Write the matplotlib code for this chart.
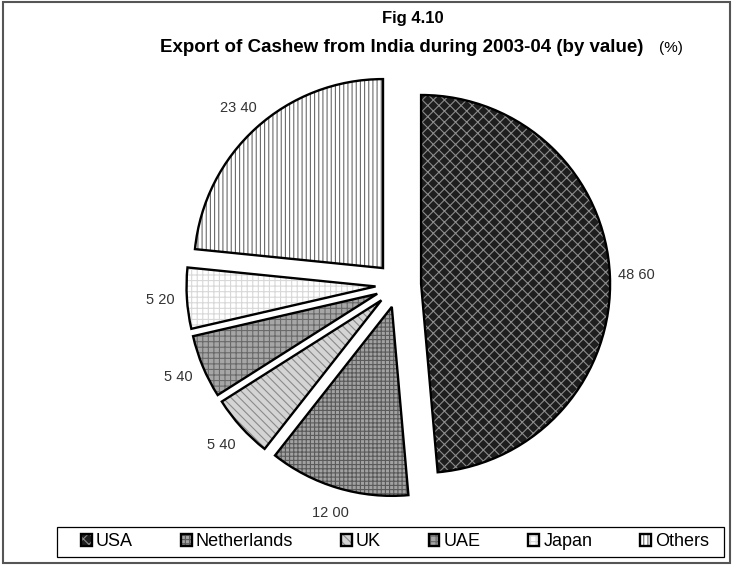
import matplotlib
matplotlib.use("Agg")
import matplotlib.pyplot as plt
from matplotlib.patches import Rectangle
from matplotlib.legend_handler import HandlerTuple

plt.rcParams['font.family'] = ['Liberation Sans', 'DejaVu Sans']
plt.rcParams['hatch.linewidth'] = 0.8

# Export shares of cashew from India, 2003-04 (by value, %)
countries = ['USA', 'Netherlands', 'UK', 'UAE', 'Japan', 'Others']
shares = [48.60, 12.00, 5.40, 5.40, 5.20, 23.40]

# grayscale fills and hatch patterns per slice
face_colors = ['#1e1e1e', '#a2a2a2', '#d4d4d4', '#a6a6a6', '#ffffff', '#ffffff']
hatch_colors = ['#8c8c8c', '#5a5a5a', '#8a8a8a', '#6a6a6a', '#d8d8d8', '#6a6a6a']
hatches = ['xxx', '++++', '\\\\\\\\', '+++', '+++', '||||']

W, H = 734, 567
fig = plt.figure(figsize=(W / 100, H / 100), dpi=100)
ax = fig.add_axes([0, 0, 1, 1])

radius = 189
center = (398.3, H - 285)
explode = [22.8] * len(shares)

# filled, hatched wedges
wedges, _ = ax.pie(shares, explode=explode, radius=radius, center=center,
                   startangle=90, counterclock=False, frame=True,
                   wedgeprops=dict(linewidth=0))
for w, fc, hc, h in zip(wedges, face_colors, hatch_colors, hatches):
    w.set_facecolor(fc)
    w.set_edgecolor(hc)
    w.set_hatch(h)

# black outlines and value labels
outlines, _, labels = ax.pie(shares, explode=explode, radius=radius, center=center,
                             startangle=90, counterclock=False, frame=True,
                             autopct=lambda p: f"{p:.2f}".replace('.', ' '),
                             pctdistance=1.14,
                             wedgeprops=dict(fill=False, edgecolor='black', linewidth=1.7))
for t in labels:
    t.set_fontsize(10.5)
    t.set_color('#333333')

ax.set_xlim(0, W)
ax.set_ylim(0, H)
ax.set_aspect('auto')
ax.set_axis_off()

# title
fig.text(413 / W, 1 - 19 / H, 'Fig 4.10', ha='center', va='center',
         fontsize=12, fontweight='bold')
fig.text(160 / W, 1 - 48 / H, 'Export of Cashew from India during 2003-04 (by value)',
         ha='left', va='center', fontsize=13.5, fontweight='bold')
fig.text(683 / W, 1 - 48 / H, '(%)', ha='right', va='center', fontsize=11)

# legend: each key is the hatched fill with a black outline on top
handles = [(w, o) for w, o in zip(wedges, outlines)]
leg = fig.legend(handles, countries, loc='center left',
                 bbox_to_anchor=(81 / W, 1 - 542 / H, 628 / W, 0),
                 mode='expand', ncol=6, fontsize=13, frameon=False,
                 borderaxespad=0, borderpad=0, handlelength=0.6,
                 handleheight=0.6, handletextpad=0.22,
                 handler_map={tuple: HandlerTuple(ndivide=1)})
fig.patches.append(Rectangle((57 / W, 1 - 557 / H), 667 / W, 30 / H,
                             transform=fig.transFigure, fill=False,
                             edgecolor='black', linewidth=0.9))

# figure border
fig.patches.append(Rectangle((3 / W, 4 / H), 727 / W, 561 / H, transform=fig.transFigure,
                             fill=False, edgecolor='#555555', linewidth=1.5))

fig.savefig('out.png', dpi=100)
